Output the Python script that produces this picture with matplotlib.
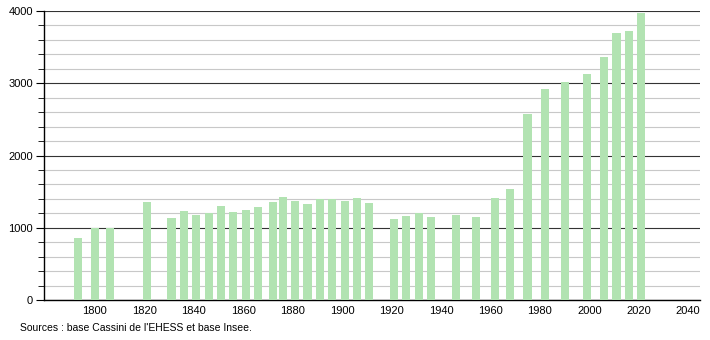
import matplotlib.pyplot as plt
from matplotlib.ticker import MultipleLocator

# Recensements (années) et population
years = [1793, 1800, 1806, 1821, 1831, 1836, 1841, 1846, 1851, 1856, 1861, 1866,
         1872, 1876, 1881, 1886, 1891, 1896, 1901, 1906, 1911, 1921, 1926, 1931,
         1936, 1946, 1954, 1962, 1968, 1975, 1982, 1990, 1999, 2006, 2011, 2016, 2021]
population = [862, 995, 995, 1361, 1139, 1227, 1176, 1199, 1301, 1223, 1246, 1283,
              1361, 1426, 1375, 1329, 1393, 1393, 1375, 1412, 1347, 1121, 1163, 1204,
              1149, 1176, 1149, 1412, 1536, 2570, 2920, 3022, 3128, 3359, 3695, 3723, 3968]
x_ticks = list(range(1800, 2041, 20))
source = "Sources : base Cassini de l'EHESS et base Insee."

plt.rcParams['font.family'] = ['Liberation Sans', 'DejaVu Sans']

fig = plt.figure(figsize=(7.1, 3.4), dpi=100)
ax = fig.add_axes([0.062, 0.1176, 0.924, 0.85])

ax.bar(years, population, width=3.3, color='#b2e3b2', zorder=3)

ax.set_xlim(1779.4, 2044.8)
ax.set_ylim(0, 4000)
ax.set_xticks(x_ticks)
ax.yaxis.set_major_locator(MultipleLocator(1000))
ax.yaxis.set_minor_locator(MultipleLocator(200))
ax.grid(axis='y', which='minor', color='#c8c8c8', linewidth=0.8, zorder=1)
ax.grid(axis='y', which='major', color='#333333', linewidth=0.8, zorder=2)

for side in ['top', 'right']:
	ax.spines[side].set_visible(False)
ax.spines['left'].set_linewidth(1.0)
ax.spines['bottom'].set_linewidth(1.0)

ax.tick_params(axis='x', length=0, labelsize=8, pad=4)
ax.tick_params(axis='y', which='major', length=6, labelsize=8, pad=2)
ax.tick_params(axis='y', which='minor', length=4)

fig.text(0.028, 0.022, source, fontsize=7.5, ha='left', va='bottom')

fig.savefig('out.png', dpi=100)
